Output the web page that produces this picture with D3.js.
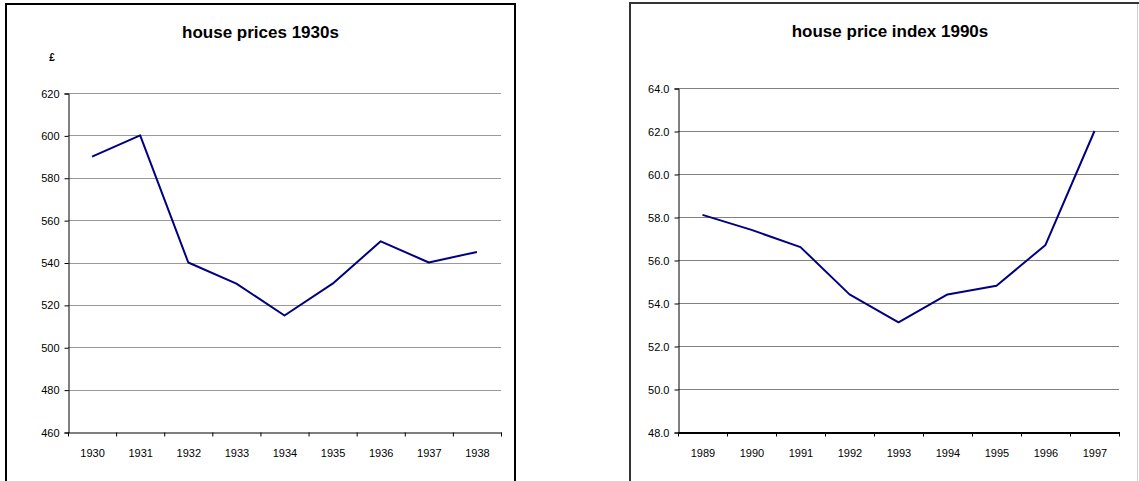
<!DOCTYPE html>
<html>
<head>
	<title></title>
	<script type="text/javascript" src="https://cdnjs.cloudflare.com/ajax/libs/d3/7.8.5/d3.min.js"></script>
	<style>
		body { margin: 0; background: #fff; }
		text { font-family: Arial, "Liberation Sans", sans-serif; fill: #000; }
	</style>
</head>
<body>

<div id='plot'></div>

<script type="text/javascript">

// 1930s chart
var years30 = ['1930', '1931', '1932', '1933', '1934', '1935', '1936', '1937', '1938'];
var prices30 = [590, 600, 540, 530, 515, 530, 550, 540, 545];
var ticks30 = [460, 480, 500, 520, 540, 560, 580, 600, 620];

// 1990s chart
var years90 = ['1989', '1990', '1991', '1992', '1993', '1994', '1995', '1996', '1997'];
var index90 = [58.1, 57.4, 56.6, 54.4, 53.1, 54.4, 54.8, 56.7, 62.0];
var ticks90 = [48, 50, 52, 54, 56, 58, 60, 62, 64];

var svg = d3.select('#plot').append('svg')
	.attr('width', 1139)
	.attr('height', 481);

function draw_chart(opt) {

	var g = svg.append('g');

	// chart frame
	g.append('rect')
		.attr('x', opt.frame[0])
		.attr('y', opt.frame[1])
		.attr('width', opt.frame[2])
		.attr('height', opt.frame[3])
		.style('fill', 'none')
		.style('stroke', opt.frame_col)
		.style('stroke-width', 2);

	g.append('text')
		.attr('x', opt.frame[0] + opt.frame[2]/2)
		.attr('y', opt.title_y)
		.attr('text-anchor', 'middle')
		.style('font-size', '17px')
		.style('font-weight', 'bold')
		.text(opt.title);

	var x = d3.scaleBand()
		.domain(opt.cats)
		.range([opt.left, opt.right]);

	var y = d3.scaleLinear()
		.domain([opt.ticks[0], opt.ticks[opt.ticks.length-1]])
		.range([opt.bottom, opt.top]);

	// gridlines
	g.selectAll('.grid').data(opt.ticks.slice(1))
		.enter().append('line').classed('grid', true)
			.attr('x1', opt.left)
			.attr('x2', opt.right)
			.attr('y1', function(d){return Math.round(y(d)) + 0.5;})
			.attr('y2', function(d){return Math.round(y(d)) + 0.5;})
			.style('stroke', opt.grid_col)
			.style('stroke-width', 1);

	var y_axis = g.append('g')
		.attr('transform', 'translate(' + (opt.left + 0.5) + ',0.5)')
		.call(d3.axisLeft(y).tickValues(opt.ticks).tickSize(4).tickPadding(5).tickFormat(opt.fmt));

	var x_axis = g.append('g')
		.attr('transform', 'translate(0.5,' + (opt.bottom + 0.5) + ')')
		.call(d3.axisBottom(x).tickValues([]).tickSizeOuter(0));

	// category separators on x axis
	var seps = opt.cats.map(function(d){ return x(d); }).concat([opt.right]);
	x_axis.selectAll('.sep').data(seps)
		.enter().append('line').classed('sep', true)
			.attr('x1', function(d){return d;})
			.attr('x2', function(d){return d;})
			.attr('y1', 0)
			.attr('y2', 4)
			.style('stroke', '#000');

	x_axis.selectAll('.lab').data(opt.cats)
		.enter().append('text').classed('lab', true)
			.attr('x', function(d){return x(d) + x.bandwidth()/2;})
			.attr('y', 24)
			.attr('text-anchor', 'middle')
			.style('font-size', '11px')
			.text(function(d){return d;});

	[y_axis, x_axis].forEach(function(a){
		a.select('.domain').style('stroke', opt.axis_col).style('stroke-width', 1);
		a.selectAll('.tick line').style('stroke', '#000');
		a.selectAll('.tick text')
			.style('font-size', '11px')
			.style('font-family', 'Arial, "Liberation Sans", sans-serif')
			.style('fill', '#000');
	});
	x_axis.select('.domain').style('stroke-width', opt.x_axis_w);

	var line = d3.line()
		.x(function(d, i){return x(opt.cats[i]) + x.bandwidth()/2;})
		.y(function(d){return y(d);});

	g.append('path')
		.datum(opt.values)
		.attr('d', line)
		.style('fill', 'none')
		.style('stroke', '#000080')
		.style('stroke-width', 2)
		.style('stroke-linejoin', 'round');

	return g;
}

var left = draw_chart({
	frame: [6, 4, 509, 500],
	frame_col: '#000',
	title: 'house prices 1930s',
	title_y: 38,
	cats: years30,
	values: prices30,
	ticks: ticks30,
	fmt: d3.format('d'),
	left: 68, right: 501, top: 93, bottom: 432,
	grid_col: '#9a9a9a',
	axis_col: '#000',
	x_axis_w: 1
});

left.append('text')
	.attr('x', 52)
	.attr('y', 61)
	.attr('text-anchor', 'middle')
	.style('font-size', '10px')
	.style('font-weight', 'bold')
	.text('£');

draw_chart({
	frame: [630, 3, 520, 500],
	frame_col: '#333',
	title: 'house price index 1990s',
	title_y: 37,
	cats: years90,
	values: index90,
	ticks: ticks90,
	fmt: d3.format('.1f'),
	left: 678, right: 1119, top: 88, bottom: 432,
	grid_col: '#808080',
	axis_col: '#000',
	x_axis_w: 2
});

// light right edge of the second frame
svg.append('line')
	.attr('x1', 1137.5).attr('x2', 1137.5)
	.attr('y1', 4).attr('y2', 481)
	.style('stroke', '#d0d0d0');

</script>

</body>
</html>
